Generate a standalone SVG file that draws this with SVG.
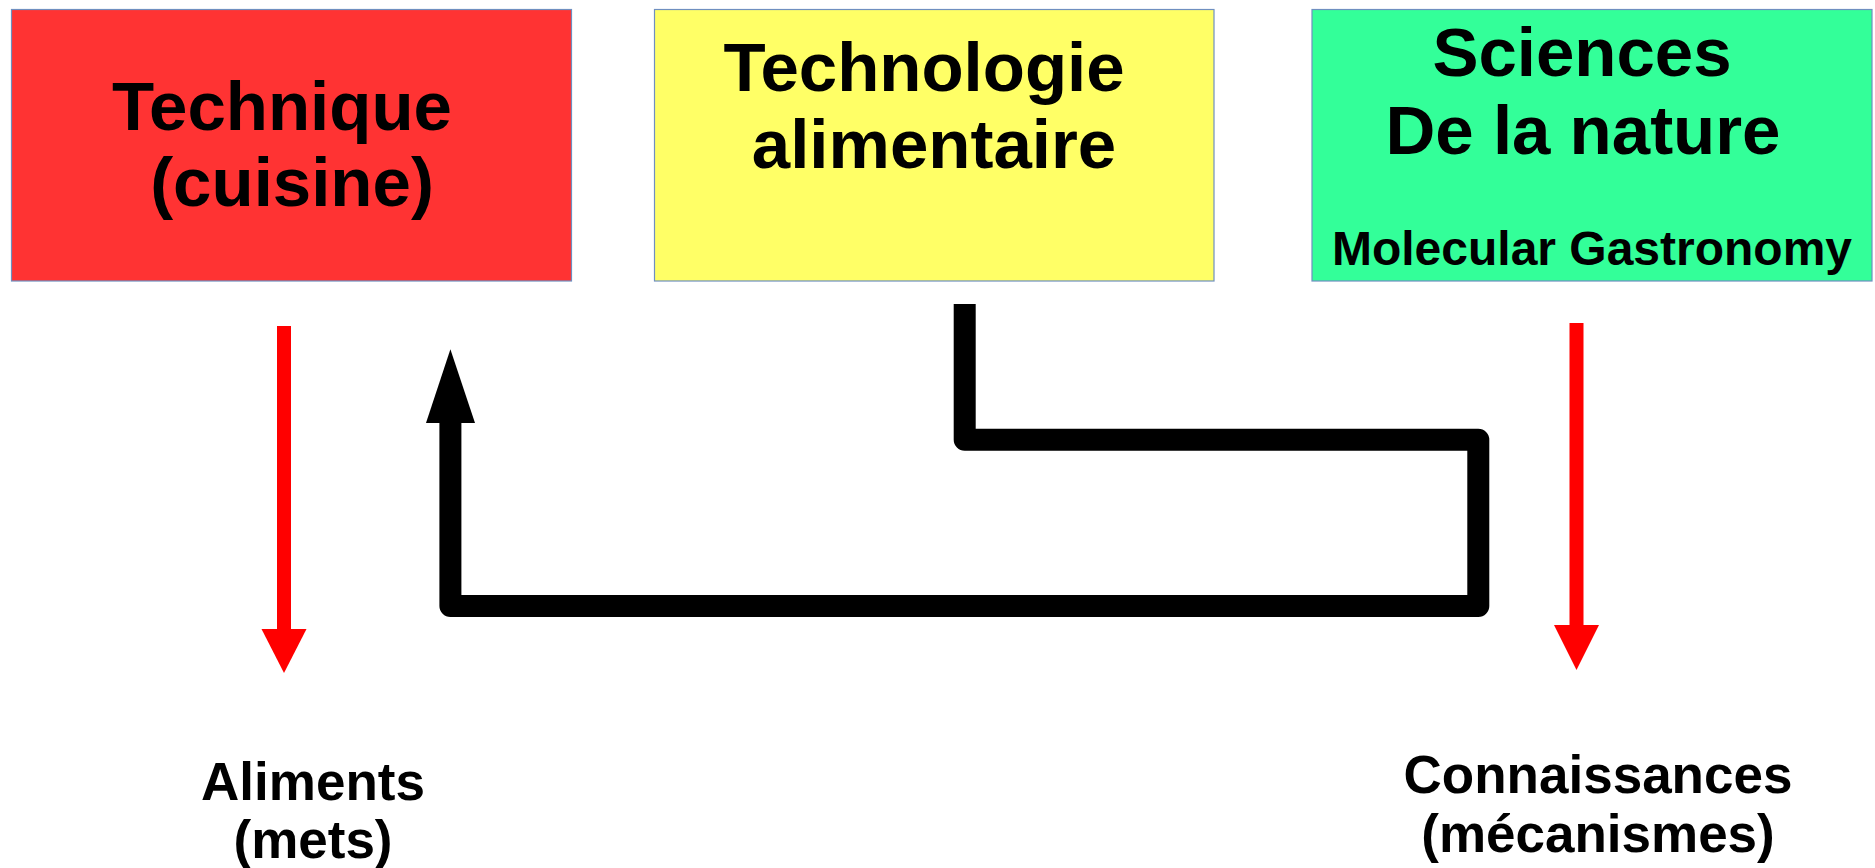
<svg xmlns="http://www.w3.org/2000/svg" width="1875" height="868" viewBox="0 0 1875 868">
<style>
.box{stroke:#6f8fc0;stroke-width:1.2}
.t{font-family:"Liberation Sans",Arial,sans-serif;font-weight:bold;fill:#000;text-anchor:middle}
.big{font-size:69px}
.mid{font-size:48px}
.lbl{font-size:53px}
.blk{fill:none;stroke:#000;stroke-width:22;stroke-linejoin:round;stroke-linecap:butt}
.red{fill:none;stroke:#ff0000;stroke-width:14}
</style>
<rect width="1875" height="868" fill="#ffffff"/>
<g id="technique">
<rect class="box" x="11.5" y="9.5" width="560" height="271.5" fill="#ff3333"/>
<text class="t big" x="282" y="130">Technique</text>
<text class="t big" x="292" y="206">(cuisine)</text>
</g>
<g id="technologie">
<rect class="box" x="654.5" y="9.5" width="559.5" height="271.5" fill="#ffff66"/>
<text class="t big" x="924" y="91">Technologie</text>
<text class="t big" x="934" y="168">alimentaire</text>
</g>
<g id="sciences">
<rect class="box" x="1312" y="9.5" width="560" height="271.5" fill="#33ff99"/>
<text class="t big" x="1582" y="76">Sciences</text>
<text class="t big" x="1583" y="154">De la nature</text>
<text class="t mid" x="1592" y="265">Molecular Gastronomy</text>
</g>
<g id="aliments">
<text class="t lbl" x="313" y="800">Aliments</text>
<text class="t lbl" x="313" y="858">(mets)</text>
</g>
<g id="connaissances">
<text class="t lbl" x="1598" y="793">Connaissances</text>
<text class="t lbl" x="1598" y="852">(mécanismes)</text>
</g>
<g id="connectors">
<line class="red" x1="284" y1="326" x2="284" y2="630"/>
<polygon points="261.5,629 306.5,629 284,673" fill="#ff0000"/>
<line class="red" x1="1576.5" y1="323" x2="1576.5" y2="626"/>
<polygon points="1554,625 1599,625 1576.5,670" fill="#ff0000"/>
<path class="blk" d="M964.7,304 V439.7 H1478.3 V606 H450.4 V420"/>
<polygon points="426,423 475,423 450.4,349.3" fill="#000"/>
</g>
</svg>
